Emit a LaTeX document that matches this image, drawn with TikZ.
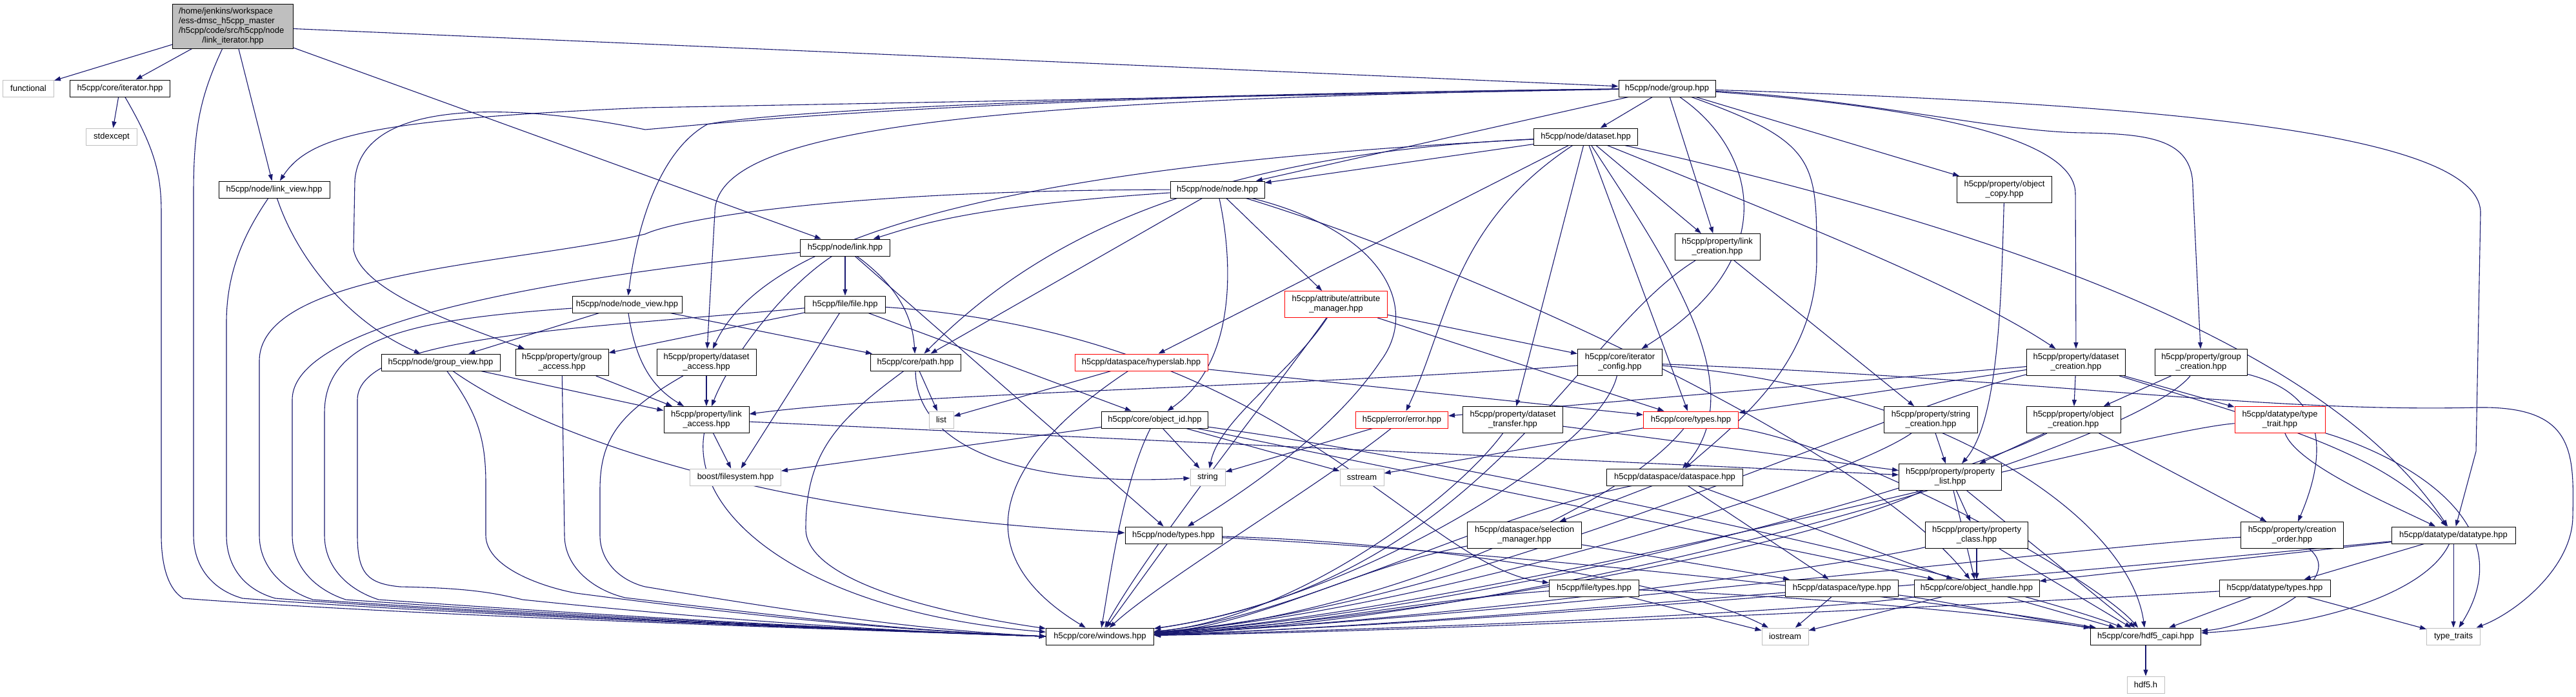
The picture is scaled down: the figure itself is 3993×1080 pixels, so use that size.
\documentclass[tikz,border=0pt]{standalone}
\usepackage{fontspec}
\setmainfont{Liberation Sans}
\usetikzlibrary{arrows.meta}
\definecolor{eb}{HTML}{191970}
\definecolor{gb}{HTML}{BFBFBF}
\newcommand{\dxf}{\fontsize{13}{15}\selectfont}
\pgfdeclarelayer{edges}
\pgfsetlayers{edges,main}
\tikzset{
 nd/.style={draw=black, line width=1pt, fill=white, inner sep=0pt, minimum height=26pt, font=\dxf, align=center, text=black},
 nd2/.style={nd, minimum height=41pt},
 gy/.style={nd, draw=gb},
 rd/.style={nd, draw=red},
 rd2/.style={nd2, draw=red},
 e/.style={draw=eb, line width=1.1pt, -{Triangle[length=10pt,width=7pt]}},
}
\begin{document}
\begin{tikzpicture}[x=1pt,y=-1pt]
\useasboundingbox (0,0) rectangle (3993,1080);
% nodes
\node[nd, fill=gb, minimum width=187pt, minimum height=69pt] (root) at (361,40.5)
 {\parbox{168pt}{\raggedright /home/jenkins/workspace\\/ess-dmsc\_h5cpp\_master\\/h5cpp/code/src/h5cpp/node\par\centering /link\_iterator.hpp}};
\node[gy, minimum width=79pt] (functional) at (44,137) {functional};
\node[nd, minimum width=155pt] (iter) at (186,137) {h5cpp/core/iterator.hpp};
\node[gy, minimum width=79pt] (stdexc) at (173,212) {stdexcept};
\node[nd, minimum width=172pt] (lview) at (425,294) {h5cpp/node/link\_view.hpp};
\node[nd, minimum width=150pt] (group) at (2584,137) {h5cpp/node/group.hpp};
\node[nd, minimum width=161pt] (dset) at (2458,212) {h5cpp/node/dataset.hpp};
\node[nd2, minimum width=147pt] (ocopy) at (3107,294) {h5cpp/property/object\\\_copy.hpp};
\node[nd, minimum width=146pt] (node) at (1887,294) {h5cpp/node/node.hpp};
\node[nd, minimum width=170pt] (nview) at (972,472) {h5cpp/node/node\_view.hpp};
\node[nd, minimum width=139pt] (link) at (1310,384) {h5cpp/node/link.hpp};
\node[nd, minimum width=125pt] (file) at (1310,472) {h5cpp/file/file.hpp};
\node[nd2, minimum width=154pt] (dacc) at (1095,562) {h5cpp/property/dataset\\\_access.hpp};
\node[nd, minimum width=184pt] (gview) at (683,562) {h5cpp/node/group\_view.hpp};
\node[nd2, minimum width=144pt] (gacc) at (871,562) {h5cpp/property/group\\\_access.hpp};
\node[nd, minimum width=140pt] (path) at (1419,562) {h5cpp/core/path.hpp};
\node[rd, minimum width=206pt] (hslab) at (1769,562) {h5cpp/dataspace/hyperslab.hpp};
\node[nd2, minimum width=132pt] (lacc) at (1095,651) {h5cpp/property/link\\\_access.hpp};
\node[gy, minimum width=38pt] (list) at (1459,651) {list};
\node[nd, minimum width=165pt] (oid) at (1790,651) {h5cpp/core/object\_id.hpp};
\node[rd2, minimum width=159pt] (attr) at (2071,472) {h5cpp/attribute/attribute\\\_manager.hpp};
\node[nd2, minimum width=131pt] (itcfg) at (2511,562) {h5cpp/core/iterator\\\_config.hpp};
\node[nd2, minimum width=132pt] (lcre) at (2662,383) {h5cpp/property/link\\\_creation.hpp};
\node[rd, minimum width=143pt] (err) at (2173,651) {h5cpp/error/error.hpp};
\node[nd2, minimum width=155pt] (dxfer) at (2345,651) {h5cpp/property/dataset\\\_transfer.hpp};
\node[rd, minimum width=147pt] (types) at (2621,651) {h5cpp/core/types.hpp};
\node[nd2, minimum width=145pt] (scre) at (2993,651) {h5cpp/property/string\\\_creation.hpp};
\node[nd2, minimum width=153pt] (dcre) at (3218,562) {h5cpp/property/dataset\\\_creation.hpp};
\node[nd2, minimum width=143pt] (gcre) at (3412,562) {h5cpp/property/group\\\_creation.hpp};
\node[nd2, minimum width=146pt] (ocre) at (3214,651) {h5cpp/property/object\\\_creation.hpp};
\node[rd2, minimum width=140pt] (ttrait) at (3534,651) {h5cpp/datatype/type\\\_trait.hpp};
\node[gy, minimum width=141pt] (boost) at (1140,740) {boost/filesystem.hpp};
\node[gy, minimum width=54pt] (string) at (1872,740) {string};
\node[nd, minimum width=150pt] (ntypes) at (1819,830) {h5cpp/node/types.hpp};
\node[nd, minimum width=167pt] (win) at (1705,987) {h5cpp/core/windows.hpp};
\node[gy, minimum width=68pt] (sstream) at (2111,740) {sstream};
\node[nd, minimum width=211pt] (dspace) at (2596,740) {h5cpp/dataspace/dataspace.hpp};
\node[nd2, minimum width=159pt] (plist) at (3023,740) {h5cpp/property/property\\\_list.hpp};
\node[nd2, minimum width=177pt] (selm) at (2363,830) {h5cpp/dataspace/selection\\\_manager.hpp};
\node[nd2, minimum width=159pt] (pclass) at (3064,830) {h5cpp/property/property\\\_class.hpp};
\node[nd, minimum width=139pt] (ftypes) at (2471,912) {h5cpp/file/types.hpp};
\node[nd, minimum width=175pt] (dstype) at (2855,912) {h5cpp/dataspace/type.hpp};
\node[nd, minimum width=194pt] (ohandle) at (3064,912) {h5cpp/core/object\_handle.hpp};
\node[nd2, minimum width=159pt] (corder) at (3553,830) {h5cpp/property/creation\\\_order.hpp};
\node[nd, minimum width=192pt] (dtype) at (3803,830) {h5cpp/datatype/datatype.hpp};
\node[nd, minimum width=172pt] (dtypes) at (3526,912) {h5cpp/datatype/types.hpp};
\node[gy, minimum width=72pt] (iostream) at (2767,987) {iostream};
\node[nd, minimum width=171pt] (capi) at (3326,987) {h5cpp/core/hdf5\_capi.hpp};
\node[gy, minimum width=83pt] (ttraits) at (3803,987) {type\_traits};
\node[gy, minimum width=58pt] (hdf5h) at (3326,1062) {hdf5.h};

\begin{pgfonlayer}{edges}
\fill[white] (0,0) rectangle (3993,1080);
% root
\draw[e] (root) -- (functional);
\draw[e] (root) -- (iter);
\draw[e] (root) -- (lview);
\draw[e] (root) -- (group);
\draw[e] (root) -- (link);
\draw[e] (root) .. controls (310,150) and (300,200) .. (300,300) -- (300,830) .. controls (300,880) and (330,915) .. (376,928) .. controls (726,955) and (1350,978) .. (win.west);
% iterator
\draw[e] (iter) -- (stdexc);
\draw[e] (iter) .. controls (240,230) and (250,270) .. (250,330) -- (250,830) .. controls (250,880) and (262,915) .. (284,928) .. controls (634,955) and (1350,978) .. (win.west);
% link_view
\draw[e] (lview) .. controls (460,400) and (540,500) .. (gview);
\draw[e] (lview) .. controls (380,360) and (351,420) .. (351,500) -- (351,830) .. controls (351,880) and (380,915) .. (427,928) .. controls (777,955) and (1350,978) .. (win.west);
% group
\draw[e] (group) -- (1000,167) .. controls (580,185) and (480,210) .. (lview);
\draw[e] (group) .. controls (1500,150) and (1150,188) .. (1000,201) .. controls (800,160) and (560,150) .. (550,280) -- (548,387) .. controls (560,450) and (700,500) .. (gacc);
\draw[e] (group) .. controls (1500,150) and (1150,180) .. (1096,193) .. controls (1030,230) and (990,330) .. (nview);
\draw[e] (group) .. controls (1500,155) and (1108,200) .. (1108,330) -- (dacc);
\draw[e] (group) -- (node);
\draw[e] (group) -- (dset);
\draw[e] (group) -- (lcre);
\draw[e] (group) .. controls (2720,230) and (2770,400) .. (itcfg);
\draw[e] (group) .. controls (2816,220) and (2816,250) .. (2816,400) .. controls (2816,560) and (2700,650) .. (dspace);
\draw[e] (group) -- (ocopy);
\draw[e] (group) .. controls (2900,160) and (3216,200) .. (3217,300) -- (dcre);
\draw[e] (group) .. controls (2900,155) and (3100,205) .. (3230,206) .. controls (3330,208) and (3399,215) .. (3399,290) -- (gcre);
\draw[e] (group) .. controls (3300,160) and (3845,200) .. (3845,330) -- (3838,700) -- (dtype);
% dataset
\draw[e] (dset) -- (node);
\draw[e] (dset) .. controls (1850,240) and (1600,380) .. (path);
\draw[e] (dset) .. controls (1500,260) and (1180,380) .. (dacc);
\draw[e] (dset) -- (hslab);
\draw[e] (dset) .. controls (2250,350) and (2245,500) .. (err);
\draw[e] (dset) -- (dxfer);
\draw[e] (dset) -- (types);
\draw[e] (dset) .. controls (2580,400) and (2720,600) .. (dspace);
\draw[e] (dset) -- (lcre);
\draw[e] (dset) .. controls (2800,350) and (3050,450) .. (dcre);
\draw[e] (dset) .. controls (3300,400) and (3650,600) .. (dtype);
% object_copy
\draw[e] (ocopy) .. controls (3102,450) and (3100,650) .. (plist);
% node
\draw[e] (node) .. controls (1500,320) and (1420,350) .. (link);
\draw[e] (node) .. controls (1300,295) and (1050,340) .. (1000,363) .. controls (800,410) and (402,420) .. (402,560) -- (402,830) .. controls (402,880) and (440,915) .. (485,930) .. controls (835,955) and (1350,978) .. (win.west);
\draw[e] (node) -- (path);
\draw[e] (node) .. controls (1910,400) and (1920,560) .. (oid);
\draw[e] (node) -- (attr);
\draw[e] (node) .. controls (2150,360) and (2200,480) .. (2140,560) .. controls (2060,680) and (1900,780) .. (ntypes);
\draw[e] (node) .. controls (2300,420) and (2900,700) .. (ohandle);
% link
\draw[e] (link) -- (file);
\draw[e] (link) .. controls (1400,450) and (1415,500) .. (path);
\draw[e] (link) .. controls (1210,450) and (1130,560) .. (lacc);
\draw[e] (link) -- (ntypes);
\draw[e] (link) .. controls (1000,417) and (453,480) .. (453,620) -- (453,830) .. controls (453,880) and (490,915) .. (536,930) .. controls (886,955) and (1350,978) .. (win.west);
% node_view
\draw[e] (nview) -- (gview);
\draw[e] (nview) -- (path);
\draw[e] (nview) .. controls (985,560) and (1010,600) .. (lacc);
\draw[e] (nview) .. controls (650,495) and (503,520) .. (503,640) -- (503,830) .. controls (503,880) and (540,915) .. (587,930) .. controls (937,955) and (1350,978) .. (win.west);
% file
\draw[e] (file) .. controls (900,510) and (554,520) .. (554,620) -- (554,830) .. controls (554,890) and (570,905) .. (620,910) .. controls (720,912) and (760,918) .. (810,930) .. controls (1100,960) and (1350,978) .. (win.west);
\draw[e] (file) -- (gacc);
\draw[e] (file) -- (boost);
\draw[e] (file) -- (oid);
\draw[e] (file) .. controls (2000,520) and (2200,880) .. (ftypes);
% group_view
\draw[e] (gview) .. controls (740,640) and (753,680) .. (753,750) -- (753,830) .. controls (753,880) and (840,910) .. (893,920) .. controls (1200,960) and (1400,978) .. (win.west);
\draw[e] (gview) .. controls (850,680) and (1200,800) .. (ntypes);
\draw[e] (gview) -- (lacc);
% group_access
\draw[e] (gacc) -- (875,830) .. controls (875,880) and (920,915) .. (969,927) .. controls (1250,960) and (1400,978) .. (win.west);
\draw[e] (gacc) -- (lacc);
% dataset_access
\draw[e] (dacc) -- (lacc);
\draw[e] (dacc) .. controls (960,640) and (930,680) .. (930,760) -- (930,830) .. controls (930,870) and (960,900) .. (1000,910) .. controls (1300,960) and (1450,978) .. (win.west);
% link_access
\draw[e] (lacc) -- (boost);
\draw[e] (lacc) .. controls (1070,800) and (1250,950) .. (win);
\draw[e] (lacc) -- (plist);
% path
\draw[e] (path) -- (list);
\draw[e] (path) .. controls (1420,700) and (1600,755) .. (string);
\draw[e] (path) .. controls (1300,650) and (1249,700) .. (1249,820) .. controls (1249,900) and (1450,950) .. (win);
% hyperslab
\draw[e] (hslab) -- (list);
\draw[e] (hslab) .. controls (1560,700) and (1480,850) .. (win);
\draw[e] (hslab) -- (types);
% object_id
\draw[e] (oid) -- (boost);
\draw[e] (oid) -- (string);
\draw[e] (oid) -- (sstream);
\draw[e] (oid) .. controls (1740,750) and (1720,900) .. (win);
\draw[e] (oid) -- (ohandle);
\draw[e] (oid) .. controls (2300,720) and (3100,900) .. (capi);
% attribute_manager
\draw[e] (attr) -- (itcfg);
\draw[e] (attr) -- (types);
\draw[e] (attr) .. controls (2000,580) and (1890,650) .. (string);
\draw[e] (attr) .. controls (1980,600) and (1780,850) .. (win);
% iterator_config
\draw[e] (itcfg) .. controls (2000,600) and (1400,610) .. (lacc);
\draw[e] (itcfg) .. controls (3200,590) and (3500,640) .. (3842,632) .. controls (3990,630) and (3990,700) .. (3988,800) .. controls (3988,880) and (3900,950) .. (ttraits);
\draw[e] (itcfg) .. controls (2480,700) and (2100,930) .. (win);
\draw[e] (itcfg) .. controls (3000,600) and (3300,800) .. (capi);
% link_creation
\draw[e] (lcre) -- (scre);
\draw[e] (lcre) .. controls (2440,520) and (2300,900) .. (win);
% error
\draw[e] (err) .. controls (2050,750) and (1800,900) .. (win);
\draw[e] (err) -- (string);
% dataset_transfer
\draw[e] (dxfer) .. controls (2250,780) and (2000,960) .. (win);
\draw[e] (dxfer) -- (plist);
% types
\draw[e] (types) .. controls (2500,800) and (2100,960) .. (win);
\draw[e] (types) -- (sstream);
\draw[e] (types) .. controls (2900,700) and (3250,900) .. (capi);
% string_creation
\draw[e] (scre) -- (plist);
\draw[e] (scre) .. controls (2850,750) and (2200,950) .. (win);
% dataset_creation
\draw[e] (dcre) -- (ocre);
\draw[e] (dcre) -- (ttrait);
\draw[e] (dcre) .. controls (3500,650) and (3700,700) .. (dtype);
\draw[e] (dcre) -- (types);
\draw[e] (dcre) -- (err);
\draw[e] (dcre) .. controls (2900,640) and (2300,940) .. (win);
% group_creation
\draw[e] (gcre) -- (ocre);
\draw[e] (gcre) .. controls (3560,600) and (3630,650) .. (corder);
\draw[e] (gcre) .. controls (3300,700) and (2400,960) .. (win);
% object_creation
\draw[e] (ocre) -- (plist);
\draw[e] (ocre) -- (corder);
\draw[e] (ocre) .. controls (3000,760) and (2300,950) .. (win);
% type_trait
\draw[e] (ttrait) .. controls (3560,720) and (3700,780) .. (dtype);
\draw[e] (ttrait) .. controls (3700,700) and (3920,800) .. (ttraits);
\draw[e] (ttrait) .. controls (3300,670) and (2300,950) .. (win);
% property_list
\draw[e] (plist) -- (pclass);
\draw[e] (plist) -- (ohandle);
\draw[e] (plist) -- (capi);
\draw[e] (plist) .. controls (2800,850) and (2200,960) .. (win);
% property_class
\draw[e] (pclass) -- (ohandle);
\draw[e] (pclass) -- (capi);
\draw[e] (pclass) .. controls (2850,880) and (2200,965) .. (win);
% selection_manager
\draw[e] (selm) -- (dstype);
\draw[e] (selm) .. controls (2100,880) and (1950,970) .. (win);
% dataspace
\draw[e] (dspace) -- (selm);
\draw[e] (dspace) -- (dstype);
\draw[e] (dspace) -- (ohandle);
\draw[e] (dspace) .. controls (2300,800) and (2000,960) .. (win);
% file/types
\draw[e] (ftypes) .. controls (2200,930) and (2000,975) .. (win);
\draw[e] (ftypes) -- (iostream);
\draw[e] (ftypes) .. controls (2900,930) and (3150,960) .. (capi);
% dataspace/type
\draw[e] (dstype) -- (iostream);
\draw[e] (dstype) .. controls (2500,940) and (2100,975) .. (win);
\draw[e] (dstype) .. controls (3000,930) and (3150,960) .. (capi);
% object_handle
\draw[e] (ohandle) .. controls (2800,950) and (2200,975) .. (win);
\draw[e] (ohandle) -- (iostream);
\draw[e] (ohandle) -- (capi);
% creation_order
\draw[e] (corder) .. controls (3300,840) and (2300,960) .. (win);
\draw[e] (corder) .. controls (3640,900) and (3500,970) .. (capi);
% datatype
\draw[e] (dtype) -- (dtypes);
\draw[e] (dtype) -- (ohandle);
\draw[e] (dtype) .. controls (3500,860) and (2400,965) .. (win);
\draw[e] (dtype) .. controls (3760,920) and (3600,970) .. (capi);
\draw[e] (dtype) -- (ttraits);
% datatype/types
\draw[e] (dtypes) .. controls (3300,925) and (2400,975) .. (win);
\draw[e] (dtypes) -- (capi);
\draw[e] (dtypes) -- (ttraits);
% node/types
\draw[e] (ntypes) -- (win);
\draw[e] (ntypes) .. controls (2200,840) and (2600,900) .. (iostream);
\draw[e] (ntypes) .. controls (2400,860) and (3000,930) .. (capi);
% hdf5_capi
\draw[e] (capi) -- (hdf5h);
\end{pgfonlayer}
\end{tikzpicture}
\end{document}
